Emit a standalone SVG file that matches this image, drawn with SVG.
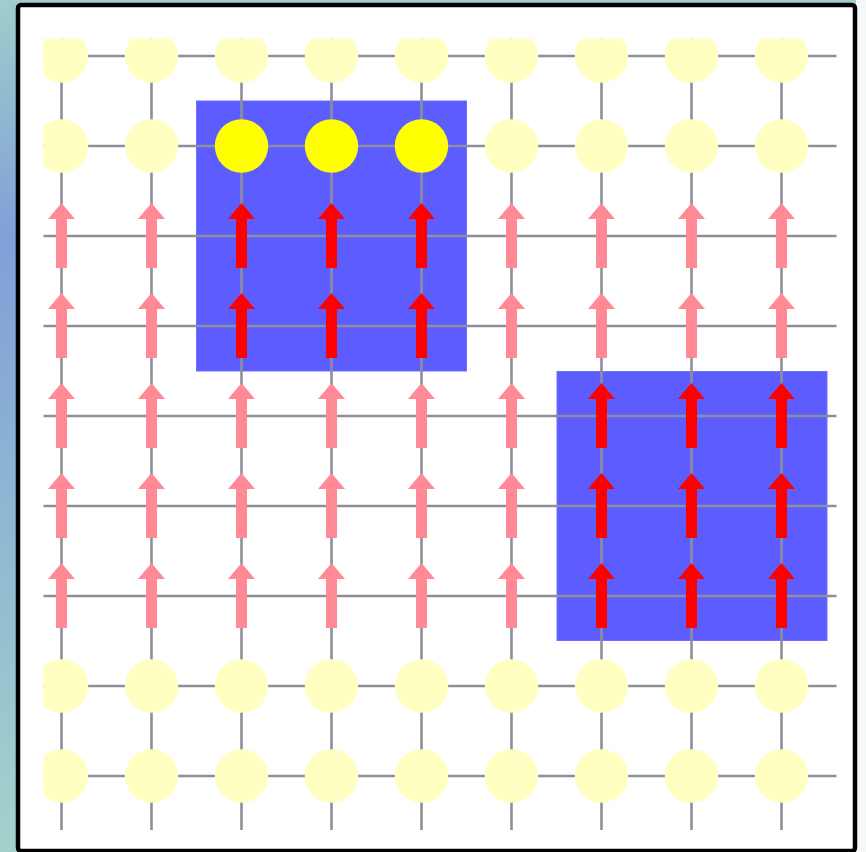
<svg xmlns="http://www.w3.org/2000/svg" xmlns:xlink="http://www.w3.org/1999/xlink" width="866" height="852" viewBox="0 0 866 852">
<defs>
<linearGradient id="bg" x1="0" y1="0" x2="0" y2="1">
<stop offset="0" stop-color="#a0cdcc"/>
<stop offset="0.28" stop-color="#7fa0d8"/>
<stop offset="1" stop-color="#a3d2cc"/>
</linearGradient>
<clipPath id="gridclip"><rect x="43.5" y="38.5" width="793" height="792"/></clipPath>
<path id="arr" d="M0,-33 L13.5,-17 L5.5,-17 L5.5,32 L-5.5,32 L-5.5,-17 L-13.5,-17 Z"/>
<style>
.grid line{stroke:#8e8e9a;stroke-width:2.6}
.pale{fill:#ffffc2}
.hot{fill:#ffff00}
.pink{fill:#ff8a96}
.red{fill:#ff0000}
.zone{fill:#5c5cff;stroke:#7070ff;stroke-width:1}
</style>
</defs>
<rect x="0" y="0" width="866" height="852" fill="url(#bg)"/>
<rect x="856" y="0" width="10" height="852" fill="#f4f8f8"/>
<rect x="18" y="5" width="837" height="846" rx="3" fill="#ffffff" stroke="#000000" stroke-width="4.5"/>
<g id="zones">
<rect id="zone1" class="zone" x="196.5" y="101" width="270" height="270"/>
<rect id="zone2" class="zone" x="557" y="371.5" width="270" height="269"/>
</g>
<g id="connectors" class="grid" clip-path="url(#gridclip)">
<line x1="61.5" y1="38" x2="61.5" y2="830"/>
<line x1="151.5" y1="38" x2="151.5" y2="830"/>
<line x1="241.5" y1="38" x2="241.5" y2="830"/>
<line x1="331.5" y1="38" x2="331.5" y2="830"/>
<line x1="421.5" y1="38" x2="421.5" y2="830"/>
<line x1="511.5" y1="38" x2="511.5" y2="830"/>
<line x1="601.5" y1="38" x2="601.5" y2="830"/>
<line x1="691.5" y1="38" x2="691.5" y2="830"/>
<line x1="781.5" y1="38" x2="781.5" y2="830"/>
<line x1="43" y1="56" x2="837" y2="56"/>
<line x1="43" y1="146" x2="837" y2="146"/>
<line x1="43" y1="236" x2="837" y2="236"/>
<line x1="43" y1="326" x2="837" y2="326"/>
<line x1="43" y1="416" x2="837" y2="416"/>
<line x1="43" y1="506" x2="837" y2="506"/>
<line x1="43" y1="596" x2="837" y2="596"/>
<line x1="43" y1="686" x2="837" y2="686"/>
<line x1="43" y1="776" x2="837" y2="776"/>
</g>
<g id="arrows">
<g id="col0"><use xlink:href="#arr" class="pink" x="61.5" y="236"/><use xlink:href="#arr" class="pink" x="61.5" y="326"/><use xlink:href="#arr" class="pink" x="61.5" y="416"/><use xlink:href="#arr" class="pink" x="61.5" y="506"/><use xlink:href="#arr" class="pink" x="61.5" y="596"/></g>
<g id="col1"><use xlink:href="#arr" class="pink" x="151.5" y="236"/><use xlink:href="#arr" class="pink" x="151.5" y="326"/><use xlink:href="#arr" class="pink" x="151.5" y="416"/><use xlink:href="#arr" class="pink" x="151.5" y="506"/><use xlink:href="#arr" class="pink" x="151.5" y="596"/></g>
<g id="col2"><use xlink:href="#arr" class="red" x="241.5" y="236"/><use xlink:href="#arr" class="red" x="241.5" y="326"/><use xlink:href="#arr" class="pink" x="241.5" y="416"/><use xlink:href="#arr" class="pink" x="241.5" y="506"/><use xlink:href="#arr" class="pink" x="241.5" y="596"/></g>
<g id="col3"><use xlink:href="#arr" class="red" x="331.5" y="236"/><use xlink:href="#arr" class="red" x="331.5" y="326"/><use xlink:href="#arr" class="pink" x="331.5" y="416"/><use xlink:href="#arr" class="pink" x="331.5" y="506"/><use xlink:href="#arr" class="pink" x="331.5" y="596"/></g>
<g id="col4"><use xlink:href="#arr" class="red" x="421.5" y="236"/><use xlink:href="#arr" class="red" x="421.5" y="326"/><use xlink:href="#arr" class="pink" x="421.5" y="416"/><use xlink:href="#arr" class="pink" x="421.5" y="506"/><use xlink:href="#arr" class="pink" x="421.5" y="596"/></g>
<g id="col5"><use xlink:href="#arr" class="pink" x="511.5" y="236"/><use xlink:href="#arr" class="pink" x="511.5" y="326"/><use xlink:href="#arr" class="pink" x="511.5" y="416"/><use xlink:href="#arr" class="pink" x="511.5" y="506"/><use xlink:href="#arr" class="pink" x="511.5" y="596"/></g>
<g id="col6"><use xlink:href="#arr" class="pink" x="601.5" y="236"/><use xlink:href="#arr" class="pink" x="601.5" y="326"/><use xlink:href="#arr" class="red" x="601.5" y="416"/><use xlink:href="#arr" class="red" x="601.5" y="506"/><use xlink:href="#arr" class="red" x="601.5" y="596"/></g>
<g id="col7"><use xlink:href="#arr" class="pink" x="691.5" y="236"/><use xlink:href="#arr" class="pink" x="691.5" y="326"/><use xlink:href="#arr" class="red" x="691.5" y="416"/><use xlink:href="#arr" class="red" x="691.5" y="506"/><use xlink:href="#arr" class="red" x="691.5" y="596"/></g>
<g id="col8"><use xlink:href="#arr" class="pink" x="781.5" y="236"/><use xlink:href="#arr" class="pink" x="781.5" y="326"/><use xlink:href="#arr" class="red" x="781.5" y="416"/><use xlink:href="#arr" class="red" x="781.5" y="506"/><use xlink:href="#arr" class="red" x="781.5" y="596"/></g>
</g>
<g id="nodes" clip-path="url(#gridclip)">
<g id="n0_0"><circle class="pale" cx="61.5" cy="56" r="26.7"/></g>
<g id="n0_1"><circle class="pale" cx="151.5" cy="56" r="26.7"/></g>
<g id="n0_2"><circle class="pale" cx="241.5" cy="56" r="26.7"/></g>
<g id="n0_3"><circle class="pale" cx="331.5" cy="56" r="26.7"/></g>
<g id="n0_4"><circle class="pale" cx="421.5" cy="56" r="26.7"/></g>
<g id="n0_5"><circle class="pale" cx="511.5" cy="56" r="26.7"/></g>
<g id="n0_6"><circle class="pale" cx="601.5" cy="56" r="26.7"/></g>
<g id="n0_7"><circle class="pale" cx="691.5" cy="56" r="26.7"/></g>
<g id="n0_8"><circle class="pale" cx="781.5" cy="56" r="26.7"/></g>
<g id="n1_0"><circle class="pale" cx="61.5" cy="146" r="26.7"/></g>
<g id="n1_1"><circle class="pale" cx="151.5" cy="146" r="26.7"/></g>
<g id="n1_2"><circle class="hot" cx="241.5" cy="146" r="26.7"/></g>
<g id="n1_3"><circle class="hot" cx="331.5" cy="146" r="26.7"/></g>
<g id="n1_4"><circle class="hot" cx="421.5" cy="146" r="26.7"/></g>
<g id="n1_5"><circle class="pale" cx="511.5" cy="146" r="26.7"/></g>
<g id="n1_6"><circle class="pale" cx="601.5" cy="146" r="26.7"/></g>
<g id="n1_7"><circle class="pale" cx="691.5" cy="146" r="26.7"/></g>
<g id="n1_8"><circle class="pale" cx="781.5" cy="146" r="26.7"/></g>
<g id="n7_0"><circle class="pale" cx="61.5" cy="686" r="26.7"/></g>
<g id="n7_1"><circle class="pale" cx="151.5" cy="686" r="26.7"/></g>
<g id="n7_2"><circle class="pale" cx="241.5" cy="686" r="26.7"/></g>
<g id="n7_3"><circle class="pale" cx="331.5" cy="686" r="26.7"/></g>
<g id="n7_4"><circle class="pale" cx="421.5" cy="686" r="26.7"/></g>
<g id="n7_5"><circle class="pale" cx="511.5" cy="686" r="26.7"/></g>
<g id="n7_6"><circle class="pale" cx="601.5" cy="686" r="26.7"/></g>
<g id="n7_7"><circle class="pale" cx="691.5" cy="686" r="26.7"/></g>
<g id="n7_8"><circle class="pale" cx="781.5" cy="686" r="26.7"/></g>
<g id="n8_0"><circle class="pale" cx="61.5" cy="776" r="26.7"/></g>
<g id="n8_1"><circle class="pale" cx="151.5" cy="776" r="26.7"/></g>
<g id="n8_2"><circle class="pale" cx="241.5" cy="776" r="26.7"/></g>
<g id="n8_3"><circle class="pale" cx="331.5" cy="776" r="26.7"/></g>
<g id="n8_4"><circle class="pale" cx="421.5" cy="776" r="26.7"/></g>
<g id="n8_5"><circle class="pale" cx="511.5" cy="776" r="26.7"/></g>
<g id="n8_6"><circle class="pale" cx="601.5" cy="776" r="26.7"/></g>
<g id="n8_7"><circle class="pale" cx="691.5" cy="776" r="26.7"/></g>
<g id="n8_8"><circle class="pale" cx="781.5" cy="776" r="26.7"/></g>
</g>
</svg>
